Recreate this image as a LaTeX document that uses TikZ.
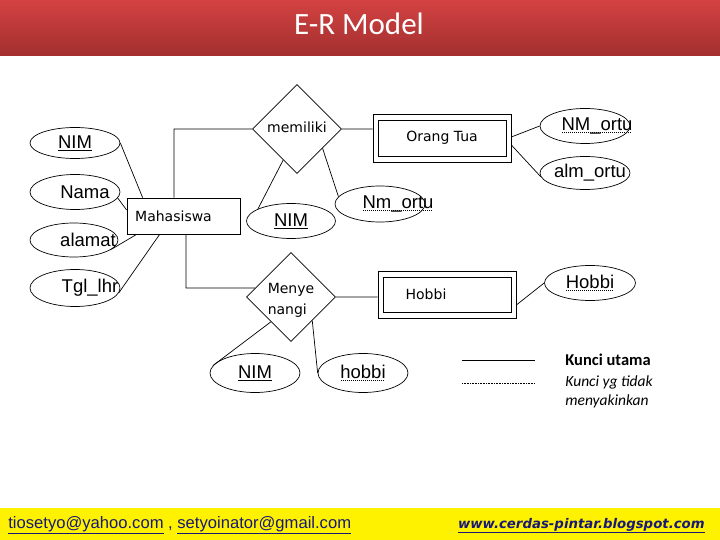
\documentclass[tikz,border=0pt]{standalone}
\usepackage{fontspec}
\setmainfont{Carlito}
\newfontfamily\boxfont{DejaVu Sans}
\newfontfamily\attrfont{Liberation Sans}
\usetikzlibrary{shapes.geometric}
\usepackage{xcolor}

\definecolor{HeadTop}{RGB}{212,66,66}
\definecolor{HeadBot}{RGB}{162,47,47}
\definecolor{LinkBlue}{RGB}{24,24,120}

% text that does not widen its node, shifted sideways by half of #1
\newcommand{\Lbl}[2][0pt]{\makebox[0pt]{\hspace*{#1}#2}}
% dotted underline (weak key)
\newcommand{\DotUl}[1]{\sbox0{#1}\rlap{\hbox to \wd0{\leaders\hbox to 2pt{\hss\rule[-2.5pt]{0.8pt}{0.8pt}\hss}\hfill}}\usebox0}

\begin{document}
\begin{tikzpicture}[
        %Environment config
        x=1pt,y=-1pt,
        line width=0.7pt,
        %Environment styles
        EntCfg/.style={
            draw,
            rectangle,
            minimum width=113pt,
            minimum height=36pt,
            inner sep=0pt,
            font=\boxfont\fontsize{14}{16}\selectfont
        },
        WeakCfg/.style={
            EntCfg,
            minimum width=138pt,
            minimum height=48pt
        },
        RelCfg/.style={
            draw,
            diamond,
            minimum width=89pt,
            minimum height=89pt,
            inner sep=0pt,
            font=\boxfont\fontsize{14}{21}\selectfont
        },
        AttrCfg/.style={
            draw,
            ellipse,
            minimum width=90pt,
            minimum height=34pt,
            inner sep=0pt,
            font=\attrfont\fontsize{18.5}{20}\selectfont
        },
        TxtCfg/.style={
            inner sep=0pt,
            anchor=base west
        }
    ]
    \useasboundingbox (0,0) rectangle (720,540);

    %Header and footer
    \shade[top color=HeadTop, bottom color=HeadBot] (0,0) rectangle (720,56);
    \node[text=white, anchor=base, inner sep=0pt, font=\fontsize{31}{36}\selectfont] (TITLE) at (359,35) {E-R Model};
    \fill[yellow] (0,508) rectangle (720,540);
    \node[TxtCfg, text=LinkBlue, font=\attrfont\fontsize{16.6}{20}\selectfont] (MAIL) at (8,528)
        {\underline{tiosetyo@yahoo.com} , \underline{setyoinator@gmail.com}};
    \node[TxtCfg, anchor=base east, text=LinkBlue, font=\boxfont\bfseries\itshape\fontsize{13.3}{16}\selectfont] (WEB) at (705,528)
        {\underline{www.cerdas-pintar.blogspot.com}};

    %Entities and relations
    \path
        (183.5,216) node[EntCfg](MHS){\Lbl[-20pt]{Mahasiswa}}
        (442,138) node[WeakCfg](ORTU){Orang Tua}
        (447,294.5) node[WeakCfg, minimum height=47pt](HOB){\Lbl[-42pt]{Hobbi}}
        (297,129) node[RelCfg](MEM){\raisebox{3pt}{memiliki}}
        (291,297) node[RelCfg](SUKA){\Lbl{\begin{tabular}{@{}l@{}}\rule{0pt}{20pt}Menye\\nangi\end{tabular}}};

    %inner frame of the weak entities
    \foreach \n in {ORTU,HOB}
        \draw ([shift={(5.5pt,-6.5pt)}]\n.north west) rectangle ([shift={(-5.5pt,6pt)}]\n.south east);

    %Attributes
    \path
        (75,143) node[AttrCfg, minimum height=31pt](A1){\Lbl{\underline{NIM}}}
        (75,192) node[AttrCfg, minimum height=35pt](A2){\Lbl[20pt]{Nama}}
        (74,240) node[AttrCfg, minimum width=88pt](A3){\Lbl[28pt]{alamat}}
        (75,288) node[AttrCfg, minimum height=37pt](A4){\Lbl[30pt]{Tgl\_lhr}}
        (291,221) node[AttrCfg, minimum width=89pt, minimum height=35pt](A5){\Lbl{\underline{NIM}}}
        (380,204) node[AttrCfg, minimum height=36pt](A6){\Lbl[36pt]{\DotUl{Nm\_ortu}}}
        (585,126) node[AttrCfg, minimum height=35pt](A7){\Lbl[24pt]{\DotUl{NM\_ortu}}}
        (585,173) node[AttrCfg, minimum height=33pt](A8){\Lbl[10pt]{alm\_ortu}}
        (590,283) node[AttrCfg, minimum width=91pt, minimum height=35pt](A9){\Lbl{\DotUl{Hobbi}}}
        (255,373) node[AttrCfg, minimum height=39pt](A10){\Lbl{\underline{NIM}}}
        (363,373) node[AttrCfg, minimum height=39pt](A11){\Lbl{\DotUl{hobbi}}};

    \draw
        ([xshift=-9.5pt]MHS.north) |- (MEM.west)
        ([xshift=2.5pt]MHS.south) |- (SUKA.166)

        (MEM.east) -- (MEM.east -| ORTU.west)
        (SUKA.east) -- (SUKA.east -| HOB.west)

        (A1.east) -- ([xshift=16pt]MHS.north west)
        (A2.-8) -- ([yshift=6pt]MHS.west)
        (A3.-14) -- ([xshift=10pt]MHS.south west)
        (A4.-6) -- ([xshift=33pt]MHS.south west)

        (MEM.246) -- (A5.160)
        (MEM.-37) -- (A6.170)

        ([yshift=1pt]ORTU.east) -- (A7.west)
        ([yshift=-7pt]ORTU.east) -- (A8.185)

        ([yshift=-10.5pt]HOB.east) -- (A9.west)

        (SUKA.231) -- (A10.170)
        (SUKA.-48) -- (A11.west);

    %Legend
    \draw (462,360) -- (535,360);
    \draw[line width=0.6pt, dash pattern=on 0.6pt off 1pt] (462,383) -- (535,383);
    \node[TxtCfg, font=\bfseries\fontsize{16.5}{19}\selectfont] (KEY1) at (565,365) {Kunci utama};
    \node[TxtCfg, font=\itshape\fontsize{15.5}{19}\selectfont] (KEY2) at (565,386) {Kunci yg tidak};
    \node[TxtCfg, font=\itshape\fontsize{15.5}{19}\selectfont] (KEY3) at (565,405) {menyakinkan};

\end{tikzpicture}
\end{document}
